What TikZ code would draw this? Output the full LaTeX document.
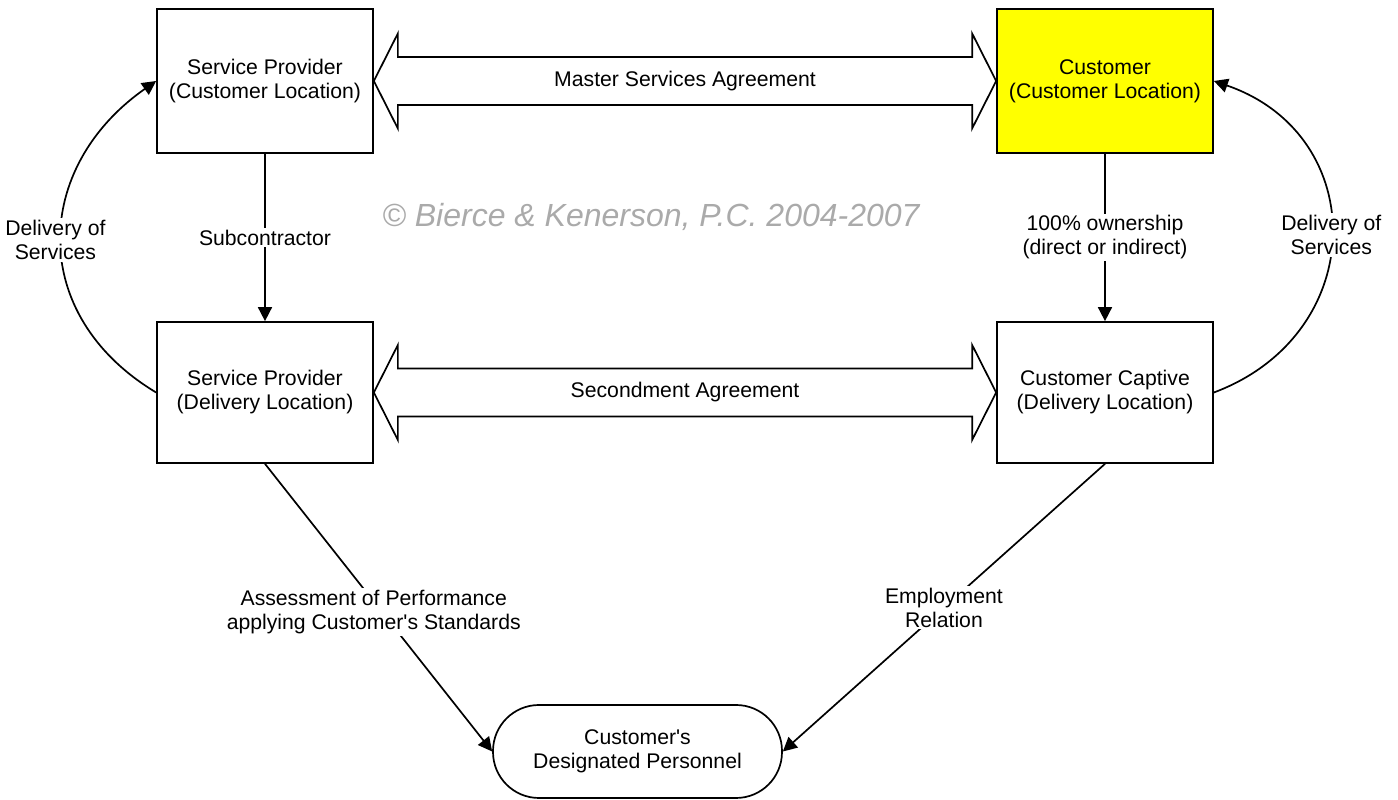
\documentclass[tikz,border=0pt]{standalone}
\usepackage{fontspec}
\setmainfont{Liberation Sans}
\usetikzlibrary{arrows.meta,calc}
\definecolor{custyellow}{RGB}{255,255,0}
\definecolor{wmgray}{RGB}{170,170,170}
\begin{document}
\begin{tikzpicture}[x=1pt,y=1pt,
  every node/.style={font=\fontsize{21.2}{24}\selectfont, align=center},
  box/.style={draw, line width=1.7pt, minimum width=216pt, minimum height=144pt, inner sep=0pt},
  lowbox/.style={box, minimum height=141pt},
  conn/.style={line width=1.7pt, -{Triangle[length=14pt,width=14pt]}},
  lbl/.style={fill=white, inner sep=2pt},
  dbl/.style={draw, line width=1.7pt, fill=white, line join=miter}
]
\useasboundingbox (0,0) rectangle (1398,800);

% nodes
\node[box] (spcl) at (265,719) {Service Provider\\(Customer Location)};
\node[box, fill=custyellow] (cust) at (1105,719) {Customer\\(Customer Location)};
\node[lowbox] (spdl) at (265,407.5) {Service Provider\\(Delivery Location)};
\node[lowbox] (cc) at (1105,407.5) {Customer Captive\\(Delivery Location)};
\node[draw, line width=1.7pt, rounded corners=46pt, minimum width=289pt, minimum height=93pt, inner sep=0pt] (pers) at (637.5,48.5) {Customer\textquotesingle s\\Designated Personnel};

% watermark
\node[font=\fontsize{32}{36}\selectfont\itshape, text=wmgray] (wm) at (651,583) {\textcopyright\ Bierce \& Kenerson, P.C. 2004-2007};

% double arrows
\draw[dbl] (spcl.east) -- ++(24,47.5) -- ++(0,-23.5) -- ($(cust.west)+(-24,24)$) -- ++(0,23.5) -- (cust.west) -- ++(-24,-47.5) -- ++(0,23.5) -- ($(spcl.east)+(24,-24)$) -- ++(0,-23.5) -- cycle;
\path (spcl.east) -- node (msa) {Master Services Agreement} (cust.west);

\draw[dbl] (spdl.east) -- ++(24,47.5) -- ++(0,-23.5) -- ($(cc.west)+(-24,24)$) -- ++(0,23.5) -- (cc.west) -- ++(-24,-47.5) -- ++(0,23.5) -- ($(spdl.east)+(24,-24)$) -- ++(0,-23.5) -- cycle;
\path (spdl.east) -- node (sa) {Secondment Agreement} (cc.west);

% vertical arrows
\draw[conn] (spcl.south) -- node[lbl] (sub) {Subcontractor} (spdl.north);
\draw[conn] (cust.south) -- node[lbl] (own) {100\% ownership\\(direct or indirect)} (cc.north);

% curved delivery arrows
\draw[conn] (spdl.west) to[out=149, in=215, looseness=1.24] node[lbl, pos=0.5, xshift=-6pt] (dl) {Delivery of\\Services} (spcl.west);
\draw[conn] (cc.east) to[out=20.5, in=-19, looseness=1.37] node[lbl, pos=0.5] (dr) {Delivery of\\Services} (cust.east);

% diagonal arrows to personnel
\draw[conn] (spdl.south) -- node[lbl, pos=0.514, xshift=-8pt] (asp) {Assessment of Performance\\applying Customer\textquotesingle s Standards} (pers.west);
\draw[conn] (cc.south) -- node[lbl, pos=0.5] (emp) {Employment\\Relation} (pers.east);
\end{tikzpicture}
\end{document}
